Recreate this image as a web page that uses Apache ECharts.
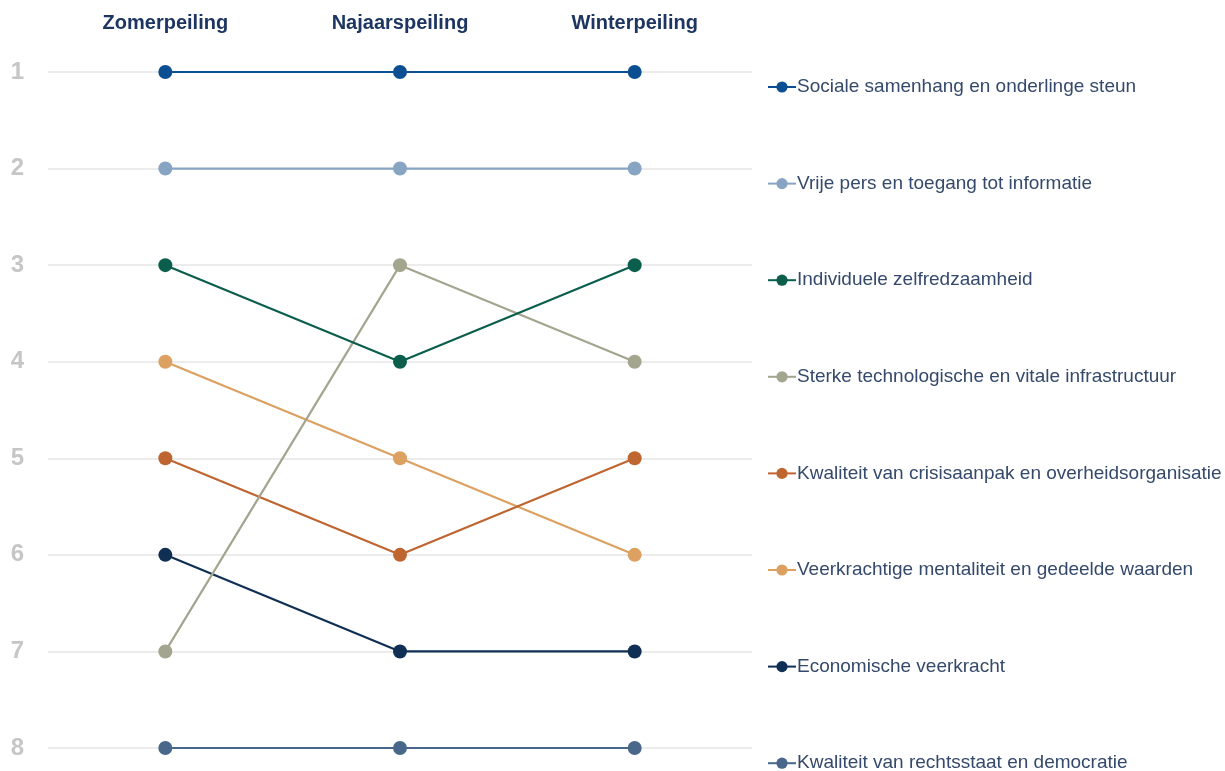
<!DOCTYPE html>
<html>
<head>
    <meta charset="utf-8">
    <title>Ranking</title>
    <style>
        html, body { margin: 0; padding: 0; background: #fff; }
    </style>
</head>
<body>
<div id="rankChart" style="width: 1225px;height:771px;"></div>
<script src="https://cdn.jsdelivr.net/npm/echarts@6/dist/echarts.min.js"></script>
<script type="text/javascript">
    // peilingen (kolommen)
    var peilingen = ['Zomerpeiling', 'Najaarspeiling', 'Winterpeiling'];
    var rangen = [1, 2, 3, 4, 5, 6, 7, 8];

    // thema's en hun rang per peiling
    var themas = [
        'Sociale samenhang en onderlinge steun',
        'Vrije pers en toegang tot informatie',
        'Individuele zelfredzaamheid',
        'Sterke technologische en vitale infrastructuur',
        'Kwaliteit van crisisaanpak en overheidsorganisatie',
        'Veerkrachtige mentaliteit en gedeelde waarden',
        'Economische veerkracht',
        'Kwaliteit van rechtsstaat en democratie'
    ];
    var sociaal = [1, 1, 1];
    var pers = [2, 2, 2];
    var zelfredzaam = [3, 4, 3];
    var infra = [7, 3, 4];
    var crisis = [5, 6, 5];
    var mentaliteit = [4, 5, 6];
    var economie = [6, 7, 7];
    var rechtsstaat = [8, 8, 8];
    var reeksen = [sociaal, pers, zelfredzaam, infra, crisis, mentaliteit, economie, rechtsstaat];

    var kleuren = ['#0b4f92', '#87a4c2', '#0b5e4c', '#a3a58f', '#bf6530', '#dca060', '#0f2f55', '#48678a'];

    var myChart = echarts.init(document.getElementById('rankChart'));

    var series = themas.map(function (naam, i) {
        return {
            name: naam,
            type: 'line',
            data: reeksen[i],
            symbol: 'circle',
            symbolSize: 14,
            lineStyle: { width: 2.2, color: kleuren[i] },
            itemStyle: { color: kleuren[i] },
            z: 10 - i
        };
    });

    var option = {
        animation: false,
        grid: { left: 48, right: 473, top: 72, bottom: 23 },
        legend: {
            orient: 'vertical',
            left: 762,
            top: 72,
            height: 740,
            itemWidth: 28,
            itemHeight: 14,
            itemGap: 76.6,
            data: themas,
            textStyle: {
                fontFamily: 'Liberation Sans',
                fontSize: 19,
                lineHeight: 20,
                color: '#34496b',
                padding: [0, 0, 0, -4]
            }
        },
        xAxis: {
            type: 'category',
            position: 'top',
            data: peilingen,
            axisLine: { show: false },
            axisTick: { show: false },
            axisLabel: {
                margin: 39,
                fontFamily: 'Liberation Sans',
                fontWeight: 'bold',
                fontSize: 20,
                color: '#1d3561'
            }
        },
        yAxis: {
            type: 'value',
            inverse: true,
            min: 1,
            max: 8,
            interval: 1,
            axisLine: { show: false },
            axisTick: { show: false },
            axisLabel: {
                margin: 24,
                fontFamily: 'Liberation Sans',
                fontWeight: 'bold',
                fontSize: 24,
                color: '#c6c6c6'
            },
            splitLine: { lineStyle: { color: '#e6e6e6', width: 1.5 } }
        },
        series: series
    };

    myChart.setOption(option);
</script>
</body>
</html>
